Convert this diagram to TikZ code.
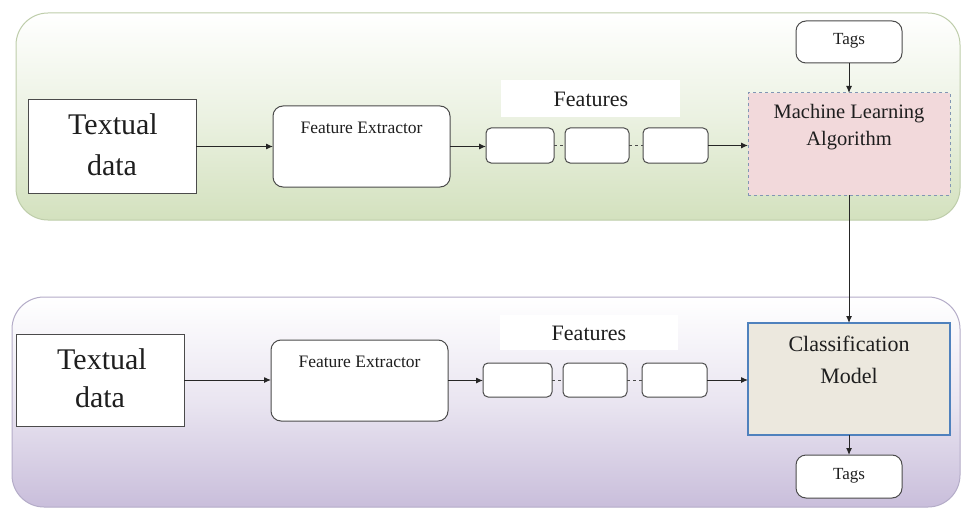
\documentclass[tikz,border=0pt]{standalone}
\usepackage{fontspec}
\setmainfont{Liberation Serif}
\usetikzlibrary{arrows.meta}
\definecolor{greenbot}{RGB}{211,225,190}
\definecolor{greenedge}{RGB}{190,205,170}
\definecolor{lavbot}{RGB}{201,190,219}
\definecolor{lavedge}{RGB}{180,172,200}
\definecolor{boxedge}{RGB}{75,75,75}
\definecolor{mlfill}{RGB}{242,217,219}
\definecolor{mledge}{RGB}{130,150,180}
\definecolor{cmfill}{RGB}{236,232,222}
\definecolor{cmedge}{RGB}{79,129,189}
\definecolor{txt}{RGB}{30,30,30}
\begin{document}
\begin{tikzpicture}[x=1pt,y=-1pt,
  plainbox/.style={draw=boxedge,line width=1pt,fill=white,inner sep=0pt,outer sep=0pt},
  roundbox/.style={plainbox,rounded corners=10pt},
  featbox/.style={plainbox,rounded corners=5pt,minimum height=35pt},
  lbl/.style={inner sep=0pt,anchor=base,text=txt},
  arr/.style={-{Latex[length=7pt,width=6pt]},line width=1pt,draw=black!85},
  dashline/.style={dashed,line width=1pt,draw=boxedge},
  flabel/.style={fill=white,inner sep=0pt,outer sep=0pt}]
\useasboundingbox (0,0) rectangle (963,508);
\fill[white] (0,0) rectangle (963,508);
% panels
\draw[greenedge,line width=1pt,rounded corners=32pt,top color=white,bottom color=greenbot,middle color=white!55!greenbot] (16,13) rectangle (960,220);
\draw[lavedge,line width=1pt,rounded corners=32pt,top color=white,bottom color=lavbot,middle color=white!60!lavbot] (12,297) rectangle (960,507);
% ---- top row
\node[plainbox,minimum width=168pt,minimum height=93pt] (td1) at (112,146.5) {};
\node[roundbox,minimum width=177pt,minimum height=81pt] (fe1) at (361.5,146.5) {};
\node[flabel,minimum width=179pt,minimum height=37pt] (fl1) at (590.5,98.5) {};
\node[featbox,minimum width=68pt] (f1a) at (520,145.5) {};
\node[featbox,minimum width=64pt] (f1b) at (597,145.5) {};
\node[featbox,minimum width=65pt] (f1c) at (675.5,145.5) {};
\node[draw=mledge,dashed,line width=1pt,fill=mlfill,inner sep=0pt,outer sep=0pt,minimum width=202pt,minimum height=102pt] (ml) at (849,144) {};
\node[roundbox,minimum width=106pt,minimum height=42pt] (tg1) at (849,42) {};
% texts top
\node[lbl,font=\fontsize{30}{36}\selectfont] (t1a) at (113,135) {Textual};
\node[lbl,font=\fontsize{30}{36}\selectfont] (t1b) at (112,175) {data};
\node[lbl,font=\fontsize{17.5}{21}\selectfont] (t1c) at (361.5,133) {Feature Extractor};
\node[lbl,font=\fontsize{22}{26}\selectfont] (t1d) at (591,107) {Features};
\node[lbl,font=\fontsize{20.5}{24}\selectfont] (t1e) at (849,118) {Machine Learning};
\node[lbl,font=\fontsize{20.5}{24}\selectfont] (t1f) at (849,146) {Algorithm};
\node[lbl,font=\fontsize{17}{20}\selectfont] (t1g) at (849,45) {Tags};
% ---- bottom row
\node[plainbox,minimum width=168pt,minimum height=92pt] (td2) at (100,380) {};
\node[roundbox,minimum width=177pt,minimum height=81pt] (fe2) at (359.5,380.5) {};
\node[flabel,minimum width=178pt,minimum height=35pt] (fl2) at (589,332.5) {};
\node[featbox,minimum width=69pt,minimum height=34pt] (f2a) at (517.5,380) {};
\node[featbox,minimum width=64pt,minimum height=34pt] (f2b) at (595,380) {};
\node[featbox,minimum width=65pt,minimum height=34pt] (f2c) at (674.5,380) {};
\node[draw=cmedge,line width=2.5pt,fill=cmfill,inner sep=0pt,outer sep=0pt,minimum width=202pt,minimum height=112pt] (cm) at (849,379) {};
\node[roundbox,minimum width=106pt,minimum height=43pt] (tg2) at (849,476.5) {};
% texts bottom
\node[lbl,font=\fontsize{30}{36}\selectfont] (t2a) at (102,369) {Textual};
\node[lbl,font=\fontsize{30}{36}\selectfont] (t2b) at (100,407) {data};
\node[lbl,font=\fontsize{17.5}{21}\selectfont] (t2c) at (359.5,367) {Feature Extractor};
\node[lbl,font=\fontsize{22}{26}\selectfont] (t2d) at (589,340) {Features};
\node[lbl,font=\fontsize{22}{26}\selectfont] (t2e) at (849,351) {Classification};
\node[lbl,font=\fontsize{22}{26}\selectfont] (t2f) at (849,383) {Model};
\node[lbl,font=\fontsize{17}{20}\selectfont] (t2g) at (849,479) {Tags};
% connectors top
\draw[arr] (td1.east) -- (fe1.west);
\draw[arr] (fe1.east) -- (fe1.east -| f1a.west);
\draw[dashline] (f1a.east) -- (f1b.west);
\draw[dashline] (f1b.east) -- (f1c.west);
\draw[arr] (f1c.east) -- (f1c.east -| ml.west);
\draw[arr] (tg1.south) -- (ml.north);
\draw[arr] (ml.south) -- (cm.north);
% connectors bottom
\draw[arr] (td2.east) -- (td2.east -| fe2.west);
\draw[arr] (fe2.east) -- (fe2.east -| f2a.west);
\draw[dashline] (f2a.east) -- (f2b.west);
\draw[dashline] (f2b.east) -- (f2c.west);
\draw[arr] (f2c.east) -- (f2c.east -| cm.west);
\draw[arr] (cm.south) -- (tg2.north);
\end{tikzpicture}
\end{document}
